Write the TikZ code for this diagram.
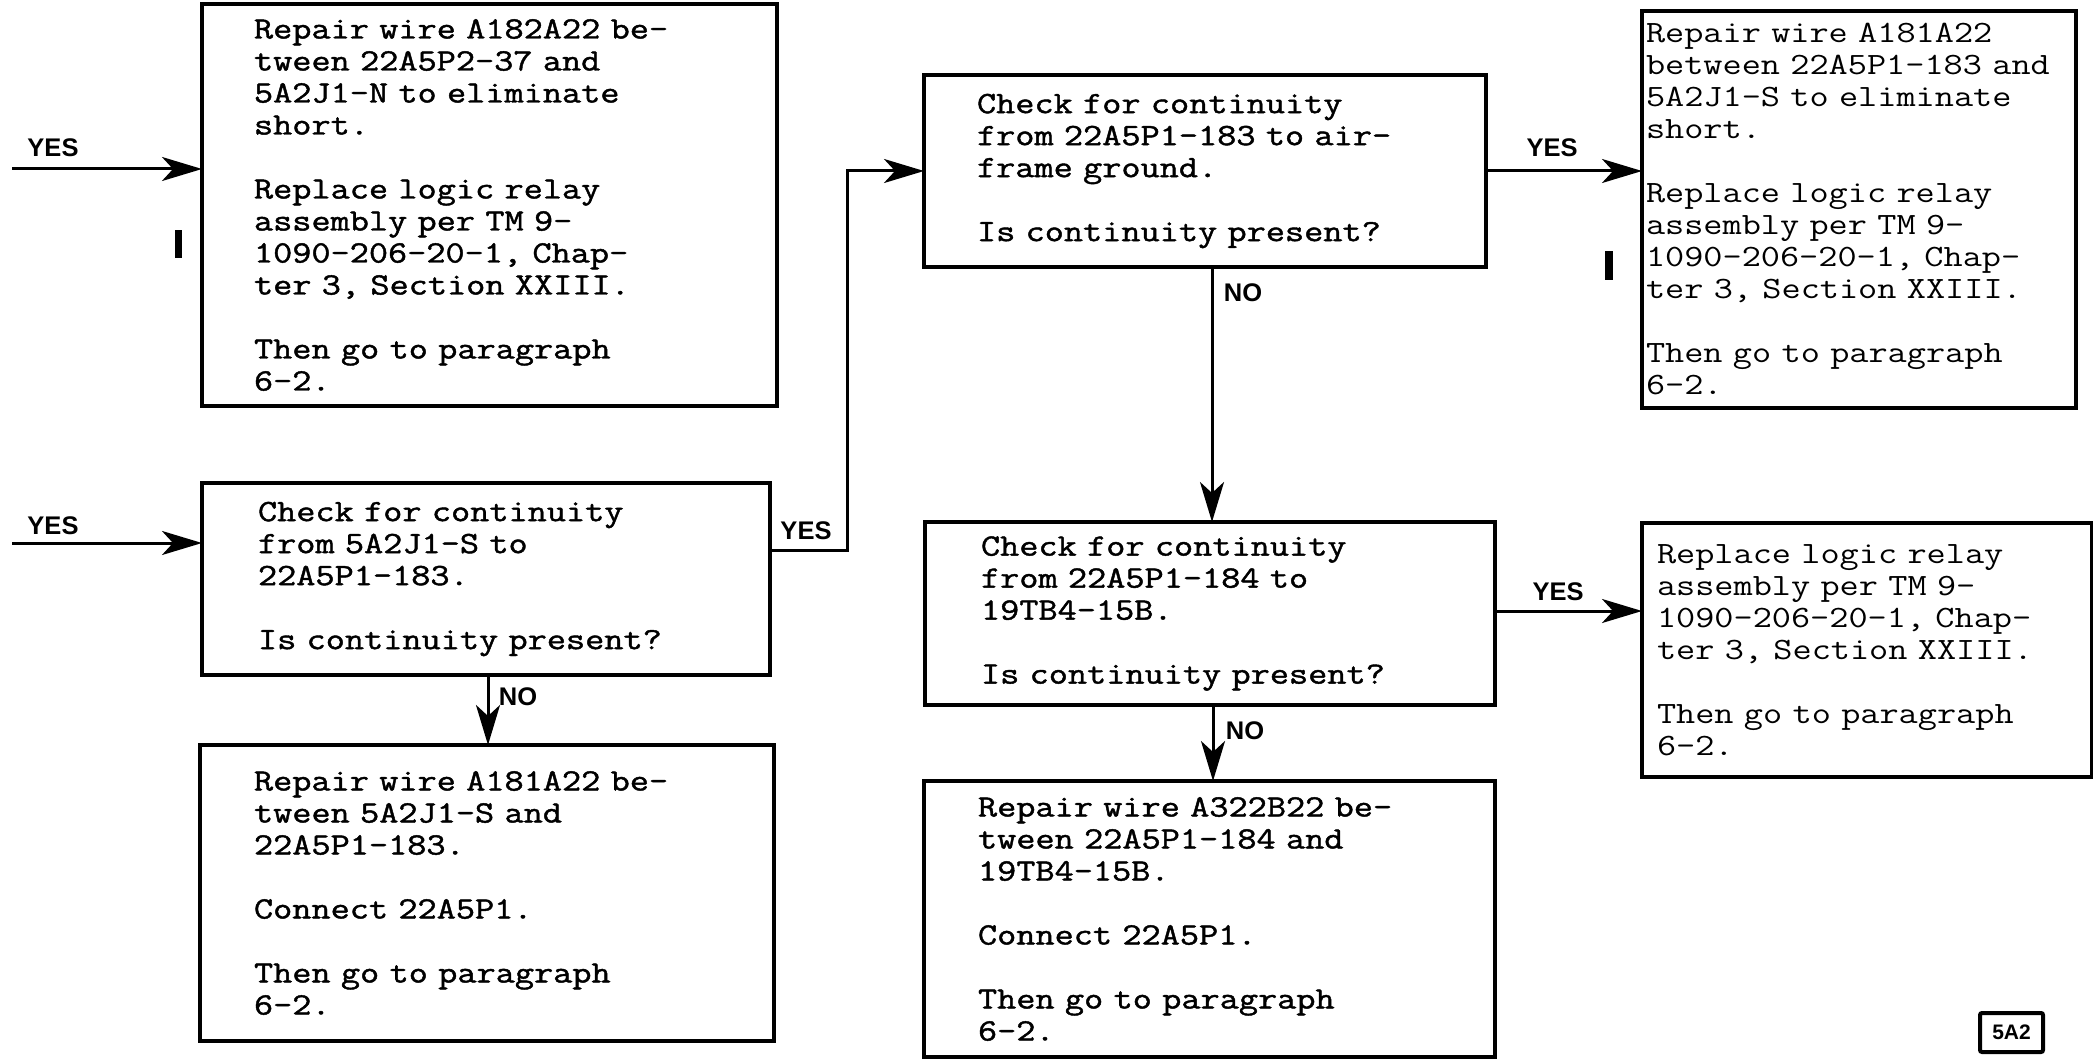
\documentclass[tikz,border=0pt]{standalone}
\usepackage{fontspec}
\setmainfont{Liberation Serif}
\newfontfamily\monoA[FakeBold=1.4,FakeStretch=1.2]{Latin Modern Mono}
\newfontfamily\monoB[FakeStretch=1.2]{Latin Modern Mono}
\newfontfamily\labfont[UprightFont={* Bold}]{Liberation Sans}
\usetikzlibrary{arrows.meta}
\tikzset{
  box/.style={draw, line width=3.5pt, anchor=north west, align=left, inner ysep=0pt, outer sep=0pt},
  lefttext/.style={font=\monoA\fontsize{31}{32}\selectfont},
  righttext/.style={font=\monoB\fontsize{31}{32}\selectfont},
  conn/.style={line width=3pt},
  arr/.style={conn, -{Stealth[length=40pt,width=24pt,inset=11pt]}},
  lab/.style={font=\labfont\fontsize{25.5}{25.5}\selectfont, inner sep=0pt},
  bar/.style={fill=black, draw=none},
}
\begin{document}
\begin{tikzpicture}[x=1pt,y=-1pt]
\useasboundingbox (0,0) rectangle (2093,1059);
% boxes
\node[box, lefttext, minimum width=575pt, minimum height=402pt, inner xsep=52pt, text width=471pt] (A) at (202,4)
 {Repair wire A182A22 be-\\tween 22A5P2-37 and\\5A2J1-N to eliminate\\short.\\[32pt]Replace logic relay\\assembly per TM 9-\\1090-206-20-1, Chap-\\ter 3, Section XXIII.\\[32pt]Then go to paragraph\\6-2.};
\node[box, lefttext, minimum width=568pt, minimum height=192pt, inner xsep=56pt, text width=456pt] (B) at (202,483)
 {Check for continuity\\from 5A2J1-S to\\22A5P1-183.\\[32pt]Is continuity present?};
\node[box, lefttext, minimum width=574pt, minimum height=296pt, inner xsep=54pt, text width=466pt] (C) at (200,745)
 {Repair wire A181A22 be-\\tween 5A2J1-S and\\22A5P1-183.\\[32pt]Connect 22A5P1.\\[32pt]Then go to paragraph\\6-2.};
\node[box, lefttext, minimum width=562pt, minimum height=192pt, inner xsep=53pt, text width=456pt] (D) at (924,75)
 {Check for continuity\\from 22A5P1-183 to air-\\frame ground.\\[32pt]Is continuity present?};
\node[box, righttext, minimum width=434pt, minimum height=397pt, inner xsep=4pt, text width=426pt] (E) at (1642,11)
 {Repair wire A181A22\\between 22A5P1-183 and\\5A2J1-S to eliminate\\short.\\[32pt]Replace logic relay\\assembly per TM 9-\\1090-206-20-1, Chap-\\ter 3, Section XXIII.\\[32pt]Then go to paragraph\\6-2.};
\node[box, lefttext, minimum width=570pt, minimum height=183pt, inner xsep=56pt, text width=458pt] (F) at (925,522)
 {Check for continuity\\from 22A5P1-184 to\\19TB4-15B.\\[32pt]Is continuity present?};
\node[box, righttext, minimum width=450pt, minimum height=254pt, inner xsep=15pt, text width=420pt] (G) at (1642,523)
 {Replace logic relay\\assembly per TM 9-\\1090-206-20-1, Chap-\\ter 3, Section XXIII.\\[32pt]Then go to paragraph\\6-2.};
\node[box, lefttext, minimum width=571pt, minimum height=276pt, inner xsep=54pt, text width=463pt] (H) at (924,781)
 {Repair wire A322B22 be-\\tween 22A5P1-184 and\\19TB4-15B.\\[32pt]Connect 22A5P1.\\[32pt]Then go to paragraph\\6-2.};
% tag
\node[draw, line width=4pt, rounded corners=2pt, minimum width=63pt, minimum height=39pt, inner sep=0pt, font=\labfont\fontsize{21}{21}\selectfont] (tag) at (2011.5,1032.5) {5A2};
% bars
\fill[bar] (175,230) rectangle (182,258);
\fill[bar] (1605,251) rectangle (1613,280);
% coordinates
\coordinate (inA) at (12,169);
\coordinate (inB) at (12,543);
\coordinate (turn) at (847,550);
\coordinate (xBC) at (488,0);
\coordinate (xDF) at (1212,0);
\coordinate (xFH) at (1213,0);
\coordinate (yFG) at (0,611);
% connectors
\draw[arr] (inA) -- (inA -| A.west);
\draw[arr] (inB) -- (inB -| B.west);
\draw[arr] (turn -| B.east) -- (turn) |- (D.west);
\draw[arr] (D.east) -- (D.east -| E.west);
\draw[arr] (xBC |- B.south) -- (xBC |- C.north);
\draw[arr] (xDF |- D.south) -- (xDF |- F.north);
\draw[arr] (yFG -| F.east) -- (yFG -| G.west);
\draw[arr] (xFH |- F.south) -- (xFH |- H.north);
% labels
\node[lab] (y1) at (53,148) {YES};
\node[lab] (y2) at (53,526) {YES};
\node[lab] (y3) at (806,531) {YES};
\node[lab] (y4) at (1552,148) {YES};
\node[lab] (y5) at (1558,592) {YES};
\node[lab] (n1) at (518,697) {NO};
\node[lab] (n2) at (1243,293) {NO};
\node[lab] (n3) at (1245,731) {NO};
\end{tikzpicture}
\end{document}
